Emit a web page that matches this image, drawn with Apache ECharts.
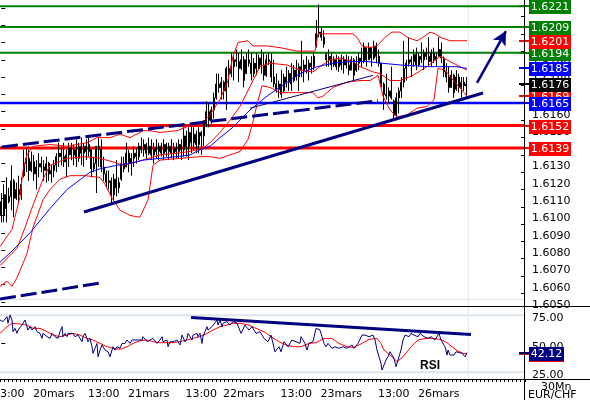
<!DOCTYPE html>
<html><head><meta charset="utf-8">
<script src="https://cdn.jsdelivr.net/npm/echarts@6/dist/echarts.min.js"></script>
<style>html,body{margin:0;padding:0;background:#fff}#c{width:590px;height:400px}</style>
</head><body><div id="c"></div>
<script>
// ---- DATA (EUR/CHF, 30Mn) ----
const highs = [1.6113,1.6118,1.6122,1.6116,1.6129,1.6121,1.6119,1.6123,1.6122,1.6138,1.6139,1.6138,1.6137,1.6135,1.6132,1.6136,1.6134,1.6132,1.6134,1.6131,1.6129,1.6132,1.6136,1.6142,1.6140,1.6142,1.6138,1.6142,1.6142,1.6141,1.6144,1.6142,1.6145,1.6142,1.6144,1.6145,1.6138,1.6134,1.6132,1.6145,1.6144,1.6134,1.6126,1.6126,1.6122,1.6124,1.6132,1.6122,1.6134,1.6134,1.6142,1.6138,1.6136,1.6140,1.6139,1.6142,1.6145,1.6144,1.6142,1.6145,1.6144,1.6142,1.6144,1.6142,1.6142,1.6144,1.6142,1.6142,1.6144,1.6142,1.6142,1.6144,1.6144,1.6151,1.6149,1.6151,1.6152,1.6151,1.6149,1.6151,1.6149,1.6155,1.6166,1.6165,1.6163,1.6171,1.6182,1.6182,1.6180,1.6178,1.6186,1.6190,1.6194,1.6192,1.6196,1.6194,1.6196,1.6192,1.6194,1.6196,1.6194,1.6191,1.6194,1.6193,1.6196,1.6194,1.6193,1.6194,1.6194,1.6190,1.6182,1.6178,1.6184,1.6182,1.6186,1.6184,1.6188,1.6187,1.6190,1.6188,1.6201,1.6190,1.6192,1.6190,1.6192,1.6194,1.6213,1.6222,1.6209,1.6207,1.6194,1.6196,1.6194,1.6192,1.6193,1.6192,1.6193,1.6192,1.6193,1.6192,1.6192,1.6191,1.6192,1.6194,1.6197,1.6200,1.6197,1.6200,1.6197,1.6201,1.6200,1.6196,1.6188,1.6177,1.6182,1.6174,1.6186,1.6167,1.6171,1.6174,1.6180,1.6201,1.6190,1.6203,1.6192,1.6196,1.6197,1.6194,1.6200,1.6196,1.6197,1.6203,1.6196,1.6197,1.6194,1.6203,1.6200,1.6192,1.6188,1.6186,1.6184,1.6182,1.6184,1.6182,1.6180,1.6180,1.6180];
const lows = [1.6096,1.6096,1.6096,1.6107,1.6103,1.6099,1.6109,1.6107,1.6109,1.6122,1.6125,1.6120,1.6125,1.6120,1.6115,1.6122,1.6125,1.6120,1.6119,1.6120,1.6119,1.6122,1.6125,1.6128,1.6129,1.6128,1.6122,1.6128,1.6132,1.6129,1.6128,1.6131,1.6129,1.6128,1.6132,1.6134,1.6122,1.6125,1.6113,1.6128,1.6125,1.6120,1.6116,1.6115,1.6107,1.6109,1.6111,1.6113,1.6120,1.6125,1.6128,1.6125,1.6123,1.6128,1.6130,1.6132,1.6136,1.6134,1.6132,1.6135,1.6132,1.6130,1.6133,1.6132,1.6134,1.6132,1.6134,1.6132,1.6133,1.6132,1.6133,1.6133,1.6132,1.6134,1.6134,1.6132,1.6136,1.6138,1.6136,1.6136,1.6135,1.6140,1.6151,1.6151,1.6153,1.6156,1.6167,1.6171,1.6167,1.6167,1.6161,1.6174,1.6180,1.6178,1.6186,1.6177,1.6184,1.6174,1.6182,1.6186,1.6178,1.6180,1.6181,1.6184,1.6182,1.6178,1.6180,1.6187,1.6177,1.6174,1.6171,1.6168,1.6168,1.6171,1.6174,1.6172,1.6172,1.6177,1.6178,1.6172,1.6180,1.6177,1.6182,1.6178,1.6182,1.6184,1.6197,1.6203,1.6201,1.6197,1.6186,1.6186,1.6184,1.6186,1.6184,1.6183,1.6184,1.6182,1.6185,1.6181,1.6184,1.6178,1.6183,1.6184,1.6186,1.6188,1.6186,1.6190,1.6186,1.6190,1.6188,1.6186,1.6174,1.6161,1.6167,1.6165,1.6167,1.6155,1.6155,1.6159,1.6168,1.6174,1.6178,1.6186,1.6180,1.6186,1.6184,1.6186,1.6188,1.6184,1.6190,1.6186,1.6186,1.6188,1.6186,1.6192,1.6188,1.6180,1.6177,1.6171,1.6174,1.6168,1.6172,1.6171,1.6168,1.6172,1.6168];
const opens = [1.6108,1.6100,1.6112,1.6108,1.6111,1.6120,1.6110,1.6115,1.6112,1.6123,1.6130,1.6133,1.6126,1.6131,1.6124,1.6128,1.6130,1.6128,1.6126,1.6130,1.6124,1.6126,1.6129,1.6134,1.6136,1.6134,1.6131,1.6135,1.6139,1.6135,1.6138,1.6133,1.6140,1.6136,1.6140,1.6137,1.6138,1.6127,1.6130,1.6140,1.6138,1.6128,1.6124,1.6119,1.6120,1.6112,1.6121,1.6116,1.6121,1.6130,1.6128,1.6136,1.6130,1.6133,1.6136,1.6134,1.6140,1.6138,1.6141,1.6136,1.6140,1.6135,1.6139,1.6137,1.6140,1.6136,1.6141,1.6137,1.6140,1.6136,1.6139,1.6137,1.6141,1.6138,1.6146,1.6140,1.6148,1.6142,1.6147,1.6141,1.6148,1.6146,1.6153,1.6160,1.6155,1.6161,1.6168,1.6176,1.6174,1.6177,1.6172,1.6185,1.6182,1.6186,1.6190,1.6189,1.6185,1.6190,1.6182,1.6190,1.6188,1.6182,1.6188,1.6185,1.6191,1.6187,1.6181,1.6190,1.6189,1.6180,1.6176,1.6173,1.6176,1.6172,1.6180,1.6177,1.6182,1.6178,1.6184,1.6180,1.6186,1.6184,1.6187,1.6185,1.6188,1.6186,1.6198,1.6205,1.6206,1.6203,1.6193,1.6190,1.6192,1.6187,1.6190,1.6186,1.6190,1.6187,1.6190,1.6187,1.6184,1.6190,1.6184,1.6188,1.6191,1.6189,1.6197,1.6190,1.6197,1.6191,1.6198,1.6192,1.6188,1.6176,1.6170,1.6169,1.6172,1.6166,1.6158,1.6168,1.6172,1.6177,1.6185,1.6188,1.6190,1.6189,1.6193,1.6187,1.6192,1.6190,1.6194,1.6192,1.6189,1.6194,1.6190,1.6192,1.6196,1.6191,1.6183,1.6180,1.6174,1.6181,1.6173,1.6180,1.6174,1.6177,1.6175];
const closes = [1.6100,1.6112,1.6104,1.6111,1.6120,1.6110,1.6115,1.6112,1.6118,1.6130,1.6133,1.6126,1.6131,1.6124,1.6128,1.6130,1.6128,1.6126,1.6130,1.6124,1.6126,1.6129,1.6134,1.6136,1.6134,1.6131,1.6135,1.6139,1.6135,1.6138,1.6133,1.6140,1.6136,1.6140,1.6137,1.6141,1.6127,1.6130,1.6140,1.6138,1.6128,1.6124,1.6119,1.6120,1.6112,1.6121,1.6116,1.6119,1.6130,1.6127,1.6136,1.6130,1.6133,1.6136,1.6134,1.6140,1.6138,1.6141,1.6136,1.6140,1.6135,1.6139,1.6137,1.6140,1.6136,1.6141,1.6137,1.6140,1.6136,1.6139,1.6137,1.6141,1.6138,1.6146,1.6140,1.6148,1.6142,1.6147,1.6141,1.6148,1.6146,1.6153,1.6160,1.6155,1.6161,1.6168,1.6176,1.6174,1.6177,1.6172,1.6185,1.6182,1.6186,1.6190,1.6189,1.6185,1.6190,1.6178,1.6190,1.6188,1.6182,1.6188,1.6185,1.6191,1.6187,1.6181,1.6190,1.6189,1.6180,1.6176,1.6173,1.6176,1.6170,1.6180,1.6177,1.6182,1.6176,1.6184,1.6180,1.6186,1.6184,1.6187,1.6185,1.6188,1.6186,1.6192,1.6205,1.6206,1.6203,1.6199,1.6190,1.6192,1.6187,1.6190,1.6186,1.6190,1.6187,1.6190,1.6187,1.6184,1.6190,1.6181,1.6188,1.6191,1.6189,1.6197,1.6190,1.6197,1.6191,1.6198,1.6192,1.6188,1.6176,1.6170,1.6169,1.6172,1.6168,1.6158,1.6168,1.6172,1.6177,1.6185,1.6188,1.6190,1.6189,1.6193,1.6187,1.6192,1.6190,1.6194,1.6192,1.6189,1.6194,1.6190,1.6192,1.6196,1.6191,1.6183,1.6180,1.6174,1.6181,1.6171,1.6180,1.6174,1.6177,1.6175,1.6176];

// indicator lines: [bar index, value]
const bbUpper = [[-0.5,1.6082],[4.3,1.6092],[7.5,1.6111],[8.7,1.6126],[10.3,1.6135],[12.7,1.6140],[19.5,1.6141],[26.3,1.6140],[34.3,1.6142],[38.3,1.6145],[43.5,1.6145],[47.5,1.6147],[51.5,1.6145],[56.7,1.6149],[59.5,1.6149],[63.5,1.6148],[70.3,1.6149],[75.5,1.6152],[80.7,1.6154],[83.5,1.6158],[87.5,1.6167],[90.7,1.6178],[92.7,1.6192],[94.7,1.6200],[98.7,1.6201],[100.7,1.6198],[106.3,1.6198],[111.5,1.6197],[118.3,1.6195],[125.5,1.6195],[126.7,1.6205],[135.5,1.6205],[140.7,1.6205],[142.3,1.6203],[144.3,1.6198],[147.5,1.6197],[150.3,1.6198],[153.5,1.6203],[156.3,1.6206],[159.5,1.6206],[162.3,1.6203],[166.3,1.6201],[168.7,1.6203],[171.5,1.6206],[173.5,1.6205],[175.5,1.6203],[179.5,1.6201],[186.3,1.6201]];
const bbMiddle = [[-0.5,1.6071],[6.3,1.6081],[9.5,1.6093],[12.7,1.6106],[16.7,1.6121],[19.5,1.6129],[26.3,1.6133],[33.5,1.6134],[39.5,1.6133],[44.7,1.6131],[48.7,1.6129],[56.7,1.6132],[63.5,1.6135],[70.3,1.6136],[75.5,1.6137],[80.7,1.6139],[83.5,1.6142],[87.5,1.6148],[91.5,1.6155],[95.5,1.6163],[100.7,1.6178],[103.5,1.6186],[107.5,1.6188],[114.3,1.6187],[119.5,1.6184],[124.7,1.6183],[127.5,1.6186],[131.5,1.6190],[135.5,1.6191],[140.7,1.6189],[143.5,1.6186],[148.7,1.6183],[151.5,1.6182],[155.5,1.6178],[159.5,1.6178],[164.7,1.6181],[170.3,1.6186],[175.5,1.6192],[179.5,1.6189],[186.3,1.6184]];
const bbLower = [[-0.5,1.6059],[2.3,1.6062],[4.3,1.6059],[6.3,1.6064],[10.3,1.6078],[12.7,1.6093],[16.7,1.6109],[19.5,1.6115],[23.5,1.6121],[27.5,1.6123],[33.5,1.6123],[39.5,1.6122],[41.5,1.6118],[44.3,1.6110],[47.5,1.6103],[51.5,1.6100],[55.5,1.6099],[58.7,1.6109],[60.7,1.6129],[63.5,1.6132],[71.5,1.6133],[79.5,1.6134],[83.5,1.6134],[87.5,1.6133],[91.5,1.6135],[95.5,1.6137],[98.7,1.6144],[100.3,1.6152],[102.3,1.6164],[104.3,1.6175],[107.5,1.6174],[111.5,1.6171],[118.3,1.6171],[124.7,1.6171],[126.7,1.6168],[128.7,1.6169],[132.7,1.6174],[138.3,1.6177],[143.5,1.6178],[147.5,1.6178],[150.7,1.6181],[152.7,1.6169],[155.5,1.6161],[158.3,1.6157],[162.3,1.6158],[166.3,1.6162],[170.3,1.6163],[173.1,1.6167],[174.7,1.6185],[177.5,1.6184],[181.5,1.6177],[186.3,1.6169]];
const maLong = [[-0.5,1.6073],[4.7,1.6080],[11.5,1.6090],[19.5,1.6104],[26.3,1.6115],[35.5,1.6125],[39.5,1.6127],[46.3,1.6129],[51.5,1.6130],[56.7,1.6132],[63.5,1.6133],[70.3,1.6134],[75.5,1.6135],[79.5,1.6138],[83.5,1.6140],[87.5,1.6145],[92.7,1.6151],[99.5,1.6161],[106.3,1.6169],[114.3,1.6177],[119.5,1.6182],[126.3,1.6186],[132.7,1.6188],[139.5,1.6189],[146.3,1.6189],[152.3,1.6188],[159.5,1.6187],[171.5,1.6186],[182.3,1.6186],[186.3,1.6185]];

const rsiValues = [[-0.5,70.7],[0.7,69.3],[2.3,73.6],[2.7,67.8],[3.5,75.1],[4.3,70.7],[4.7,60.5],[5.5,63.4],[6.3,59.0],[6.7,61.9],[7.5,60.5],[8.3,66.3],[8.7,67.8],[9.5,70.7],[10.3,72.2],[10.7,61.9],[11.5,64.9],[12.3,61.9],[12.7,60.5],[13.5,64.9],[14.3,60.5],[15.5,59.0],[16.3,54.6],[16.7,59.0],[18.3,56.1],[18.7,57.5],[19.5,54.6],[20.3,59.0],[21.5,56.1],[22.3,57.5],[22.7,54.6],[23.5,60.5],[24.3,64.9],[24.7,56.1],[25.5,59.0],[26.3,56.1],[26.7,59.0],[27.5,57.5],[28.7,59.0],[29.5,56.1],[30.3,54.6],[30.7,57.5],[31.5,56.1],[32.3,51.7],[32.7,56.1],[33.5,59.0],[34.3,54.6],[34.7,51.7],[35.5,54.6],[36.3,47.3],[36.7,41.5],[37.5,45.9],[38.3,50.2],[38.7,38.5],[39.5,44.4],[40.3,48.8],[40.7,47.3],[41.5,44.4],[42.3,45.9],[42.7,42.9],[43.5,38.5],[44.3,44.4],[44.7,47.3],[45.5,44.4],[46.3,47.3],[46.7,48.8],[47.5,45.9],[48.3,50.2],[48.7,51.7],[49.5,50.2],[50.3,53.2],[50.7,51.7],[51.5,50.2],[52.3,53.2],[52.7,51.7],[53.5,53.2],[54.3,51.7],[54.7,53.2],[55.5,54.6],[56.3,53.2],[56.7,56.1],[57.5,54.6],[58.3,51.7],[58.7,50.2],[59.5,53.2],[60.3,51.7],[60.7,54.6],[61.5,53.2],[62.3,50.2],[62.7,51.7],[63.5,53.2],[64.3,56.1],[64.7,51.7],[65.5,50.2],[66.3,53.2],[66.7,47.3],[67.5,51.7],[68.3,50.2],[68.7,51.7],[69.5,50.2],[70.3,53.2],[70.7,51.7],[71.5,48.8],[72.3,57.5],[72.7,56.1],[73.5,51.7],[74.3,54.6],[74.7,59.0],[75.5,56.1],[76.3,53.2],[76.7,57.5],[77.5,56.1],[78.3,59.0],[78.7,56.1],[79.5,59.0],[80.3,50.2],[80.7,56.1],[81.5,60.5],[82.3,64.9],[82.7,61.9],[83.5,63.4],[84.3,64.9],[84.7,63.4],[86.3,70.7],[86.7,66.3],[87.5,70.7],[88.3,64.9],[88.7,67.8],[90.3,69.3],[91.5,66.3],[92.7,69.3],[94.3,68.0],[95.9,59.0],[97.5,66.3],[99.1,61.9],[100.3,64.9],[101.9,59.0],[103.5,60.5],[105.1,54.6],[106.7,51.7],[107.9,57.5],[109.5,42.9],[111.1,47.3],[111.9,42.9],[113.1,51.7],[114.7,47.3],[115.5,45.9],[116.3,53.2],[117.9,51.7],[119.5,50.2],[119.9,56.1],[121.5,50.2],[122.3,44.4],[123.1,50.2],[124.7,51.7],[125.9,63.4],[127.5,61.9],[128.3,56.1],[129.1,50.2],[129.9,47.3],[130.7,50.2],[132.3,45.9],[133.5,47.3],[135.1,45.9],[136.7,47.3],[138.3,45.9],[139.1,44.4],[140.3,48.8],[141.1,45.9],[142.7,50.2],[144.3,57.5],[145.5,57.5],[147.1,56.1],[148.7,57.5],[149.5,53.2],[150.3,44.4],[151.1,38.5],[151.9,32.7],[152.3,26.8],[153.1,31.2],[153.9,35.6],[154.7,38.5],[155.5,42.9],[156.3,44.4],[157.1,37.1],[157.9,29.8],[158.3,32.7],[159.1,38.5],[159.9,44.4],[160.7,53.2],[161.5,57.5],[162.3,59.0],[163.1,56.1],[163.9,59.0],[165.1,57.5],[166.7,56.1],[167.5,59.0],[169.1,56.1],[170.7,54.6],[171.9,56.1],[173.5,53.2],[175.1,59.0],[175.9,53.2],[177.5,47.3],[178.3,40.0],[178.7,44.4],[179.5,40.0],[180.3,41.5],[181.1,40.0],[181.9,42.9],[182.7,41.5],[184.3,41.5],[185.5,38.5],[186.3,42.12]];
const rsiSignal = [[-0.5,59.0],[2.3,64.9],[4.3,67.8],[7.5,67.2],[10.3,66.3],[12.7,63.4],[15.5,63.4],[18.3,60.5],[20.7,57.5],[23.5,56.1],[26.3,57.5],[28.7,59.0],[31.5,57.5],[34.3,54.6],[36.7,53.2],[39.5,50.2],[42.3,47.3],[44.7,45.9],[47.5,45.0],[50.3,47.3],[52.7,50.2],[55.5,52.6],[58.3,53.2],[60.7,51.7],[63.5,50.8],[66.3,50.8],[68.7,50.8],[71.5,51.7],[74.3,53.2],[76.7,54.6],[79.5,56.1],[82.3,59.0],[84.7,61.9],[87.5,64.9],[90.3,66.3],[92.7,67.8],[95.9,67.8],[99.1,66.3],[101.9,63.4],[105.1,60.5],[107.9,56.1],[111.1,51.7],[113.9,48.8],[117.1,47.3],[119.9,47.3],[123.1,50.2],[125.9,50.8],[129.1,54.6],[132.3,54.6],[135.1,50.2],[138.3,47.3],[141.1,46.7],[144.3,50.2],[147.1,53.7],[150.3,54.6],[151.9,50.2],[153.1,44.4],[156.3,38.5],[158.3,34.2],[160.7,38.5],[163.9,47.3],[166.7,53.2],[169.9,54.6],[172.7,54.6],[175.9,53.7],[178.7,50.2],[181.9,44.4],[184.7,41.5],[186.3,41.0]];

// drawn analysis lines: [bar index, value]
const supportTrend = [[33.1,1.6102],[192.7,1.61708]];
const upperDashedTrend = [[0.3,1.61396],[150.7,1.61663]];
const lowerDashedTrend = [[-0.5,1.60517],[39.9,1.6061]];
const thinTrend = [[99.5,1.6162],[148.7,1.6181]];
const arrowPath = [[190.3,1.61766],[201.9,1.62066]];
const rsiTrend = [[75.9,72.9],[187.9,58.0]];
const nowIndex = 186.8;

const resistanceLevels = [1.6221,1.6209,1.6194];
const pivotLevels = [1.6165];
const supportLevels = [1.6152,1.6139];

const priceTickLabels = [1.6050,1.6060,1.6070,1.6080,1.6090,1.6100,1.6110,1.6120,1.6130,1.6140,1.6150,1.6160,1.6170,1.6180,1.6190,1.6200,1.6210,1.6220];
const rsiTickLabels = [25,50,75];
const rsiGuides = [75,25];
const timeLabels = [[3,'13:00'],[21,'20mars'],[41,'13:00'],[59,'21mars'],[80,'13:00'],[97,'22mars'],[118,'13:00'],[136,'23mars'],[157,'13:00'],[175,'26mars']];
const slotCount = 210;

// ---- CHART ----
const COLORS = {resistance:'#008000', pivot:'#0000ff', support:'#ff0000', bandUpper:'#ff0000',
  average:'#0000ff', bandLower:'#ff0000', last:'#000000', rsi:'#000080', signal:'#ff0000'};
const NAVY = '#000080', GUIDE = '#dce6ec', FONT = '"DejaVu Sans", Verdana, sans-serif';
const lastOf = a => a[a.length - 1];
const lastVal = a => lastOf(a)[1];
const X_MIN = -0.5, X_MAX = slotCount - 0.5;
const PRICE_MIN = 1.604767, PRICE_MAX = 1.622455, RSI_MIN = 19, RSI_MAX = 83;

const categories = Array.from({length: slotCount}, (_, i) => String(i));
const labelMap = {}; timeLabels.forEach(([i, t]) => { labelMap[i] = t; });
const candles = highs.map((h, i) => [opens[i], closes[i], lows[i], h]);

const priceTags = [
  ...resistanceLevels.map(v => [v, 'resistance']),
  [lastVal(bbUpper), 'bandUpper'], [lastVal(maLong), 'average'], [lastVal(bbLower), 'bandLower'],
  [lastOf(closes), 'last'], ...pivotLevels.map(v => [v, 'pivot']), ...supportLevels.map(v => [v, 'support'])
];
const rsiTags = [[lastVal(rsiSignal), 'signal'], [lastVal(rsiValues), 'rsi']];

function tagRenderer(tags, decimals) {
  return function (params, api) {
    const [v, kind] = tags[params.dataIndex];
    const y = Math.round(api.coord([0, v])[1]);
    const cs = params.coordSys;
    const ax = cs.x + cs.width;
    const color = COLORS[kind];
    const text = v.toFixed(decimals);
    const w = text.length * 7;
    return { type: 'group', children: [
      { type: 'rect', shape: { x: ax - 6, y: y - 1, width: 11, height: 2 }, style: { fill: color }, z2: params.dataIndex * 3 },
      { type: 'rect', shape: { x: ax + 4, y: y - 6, width: w, height: 14 }, style: { fill: color }, z2: params.dataIndex * 3 + 1 },
      { type: 'text', style: { text, x: ax + 4 + w / 2, y: y + 1.5, fill: '#fff', font: '11px ' + FONT, align: 'center', verticalAlign: 'middle' }, z2: params.dataIndex * 3 + 2 }
    ]};
  };
}

function lineSeries(data, color, width, xi, yi, extra) {
  return Object.assign({ type: 'line', data, xAxisIndex: xi, yAxisIndex: yi, symbol: 'none', showSymbol: false,
    lineStyle: { color, width }, silent: true, z: 3, emphasis: { disabled: true }, animation: false }, extra || {});
}
const hLine = (v, color, width, xi, yi) => lineSeries([[X_MIN, v], [X_MAX, v]], color, width, xi, yi, { z: 1 });
const vLine = (x, lo, hi, color, xi, yi) => lineSeries([[x, lo], [x, hi]], color, 1, xi, yi, { z: 1 });

const rightLabel = (formatter, values) => ({ show: true, customValues: values, formatter, color: '#000', fontSize: 11,
  fontFamily: FONT, margin: 7, verticalAlign: 'top', lineHeight: 6 });

const chart = echarts.init(document.getElementById('c'));
const option = {
  animation: false,
  backgroundColor: '#ffffff',
  textStyle: { fontFamily: FONT },
  grid: [
    { left: 0, top: 0, width: 525, height: 306, containLabel: false, outerBoundsMode: 'none' },
    { left: 0, top: 306, width: 525, height: 73, containLabel: false, outerBoundsMode: 'none' }
  ],
  xAxis: [
    { type: 'category', gridIndex: 0, data: categories, show: false },
    { type: 'value', gridIndex: 0, min: X_MIN, max: X_MAX, show: false },
    { type: 'value', gridIndex: 1, min: X_MIN, max: X_MAX, interval: 1.6,
      axisLine: { show: false }, axisLabel: { show: false }, splitLine: { show: false },
      axisTick: { show: true, length: 3, lineStyle: { color: '#000' } } },
    { type: 'category', gridIndex: 1, data: categories, position: 'bottom',
      axisLine: { show: false }, axisTick: { show: false }, splitLine: { show: false },
      axisLabel: { show: true, interval: (i) => labelMap[i] !== undefined, formatter: (v, i) => labelMap[i] || '',
        color: '#000', fontSize: 11, fontFamily: FONT, margin: 10, hideOverlap: false } }
  ],
  yAxis: [
    { type: 'value', gridIndex: 0, position: 'right', min: PRICE_MIN, max: PRICE_MAX, splitLine: { show: false },
      axisLine: { show: false },
      axisTick: { show: true, length: 4, customValues: priceTickLabels, lineStyle: { color: '#000' } },
      axisLabel: rightLabel(v => v.toFixed(4), priceTickLabels) },
    { type: 'value', gridIndex: 0, position: 'right', min: PRICE_MIN, max: PRICE_MAX, splitLine: { show: false },
      axisLine: { show: false }, axisLabel: { show: false },
      axisTick: { show: true, inside: true, length: 4, customValues: priceTickLabels.map(v => v + 0.0005), lineStyle: { color: '#000' } } },
    { type: 'value', gridIndex: 1, position: 'right', min: RSI_MIN, max: RSI_MAX, splitLine: { show: false },
      axisLine: { show: false },
      axisTick: { show: true, length: 4, customValues: rsiTickLabels, lineStyle: { color: '#000' } },
      axisLabel: rightLabel(v => v.toFixed(2), rsiTickLabels) }
  ],
  graphic: [
    { type: 'line', shape: { x1: 0, y1: 299.5, x2: 525, y2: 299.5 }, style: { stroke: GUIDE, lineWidth: 1 }, silent: true },
    { type: 'line', shape: { x1: 0, y1: 306.5, x2: 590, y2: 306.5 }, style: { stroke: '#000', lineWidth: 1 }, silent: true, z: 50 },
    { type: 'line', shape: { x1: 0, y1: 379.5, x2: 590, y2: 379.5 }, style: { stroke: '#000', lineWidth: 1 }, silent: true, z: 50 },
    { type: 'line', shape: { x1: 524.5, y1: 0, x2: 524.5, y2: 400 }, style: { stroke: '#000', lineWidth: 1 }, silent: true, z: 50 },
    { type: 'text', left: 420, top: 360, style: { text: 'RSI', font: 'bold 12px "Liberation Sans", Arial, sans-serif', fill: '#000' }, silent: true },
    { type: 'text', left: 541, top: 382, style: { text: '30Mn', font: '11px ' + FONT, fill: '#000' }, silent: true },
    { type: 'text', left: 528, top: 390, style: { text: 'EUR/CHF', font: '11px ' + FONT, fill: '#000' }, silent: true }
  ],
  series: [
    vLine(nowIndex, PRICE_MIN, PRICE_MAX, GUIDE, 1, 0),
    ...resistanceLevels.map(v => hLine(v, COLORS.resistance, 2, 1, 0)),
    ...pivotLevels.map(v => hLine(v, COLORS.pivot, 2.5, 1, 0)),
    ...supportLevels.map(v => hLine(v, COLORS.support, 3, 1, 0)),
    { type: 'candlestick', name: 'EUR/CHF', xAxisIndex: 0, yAxisIndex: 0, data: candles, barWidth: 1.5, z: 2, silent: true,
      itemStyle: { color: '#000', color0: '#000', borderColor: '#000', borderColor0: '#000', borderWidth: 1 } },
    lineSeries(bbUpper, '#ff0000', 1, 1, 0),
    lineSeries(bbMiddle, '#ff0000', 1, 1, 0),
    lineSeries(bbLower, '#ff0000', 1, 1, 0),
    lineSeries(maLong, '#0000ff', 1, 1, 0),
    lineSeries(thinTrend, NAVY, 1, 1, 0, { z: 4 }),
    lineSeries(supportTrend, NAVY, 3, 1, 0, { z: 4 }),
    lineSeries(upperDashedTrend, NAVY, 3, 1, 0, { z: 4, lineStyle: { color: NAVY, width: 3, type: [16, 5] } }),
    lineSeries(lowerDashedTrend, NAVY, 3, 1, 0, { z: 4, lineStyle: { color: NAVY, width: 3, type: [16, 5] } }),
    { type: 'line', name: 'arrow', xAxisIndex: 1, yAxisIndex: 0, data: [], z: 4, silent: true,
      markLine: { silent: true, symbol: ['none', 'arrow'], symbolSize: [11, 14], label: { show: false }, animation: false,
        lineStyle: { color: NAVY, width: 2.5, type: 'solid' },
        data: [[{ coord: arrowPath[0] }, { coord: arrowPath[1] }]] } },
    // RSI panel
    vLine(nowIndex, RSI_MIN, RSI_MAX, GUIDE, 2, 2),
    ...rsiGuides.map(v => hLine(v, GUIDE, 2, 2, 2)),
    lineSeries(rsiSignal, '#ff0000', 1, 2, 2),
    lineSeries(rsiValues, NAVY, 1, 2, 2),
    lineSeries(rsiTrend, NAVY, 3, 2, 2, { z: 4 }),
    // value tags
    { type: 'custom', xAxisIndex: 1, yAxisIndex: 0, data: priceTags.map(t => [0, t[0]]), renderItem: tagRenderer(priceTags, 4),
      clip: false, z: 20, silent: true },
    { type: 'custom', xAxisIndex: 2, yAxisIndex: 2, data: rsiTags.map(t => [0, t[0]]), renderItem: tagRenderer(rsiTags, 2),
      clip: false, z: 20, silent: true }
  ]
};
chart.setOption(option);
</script>
</body></html>
